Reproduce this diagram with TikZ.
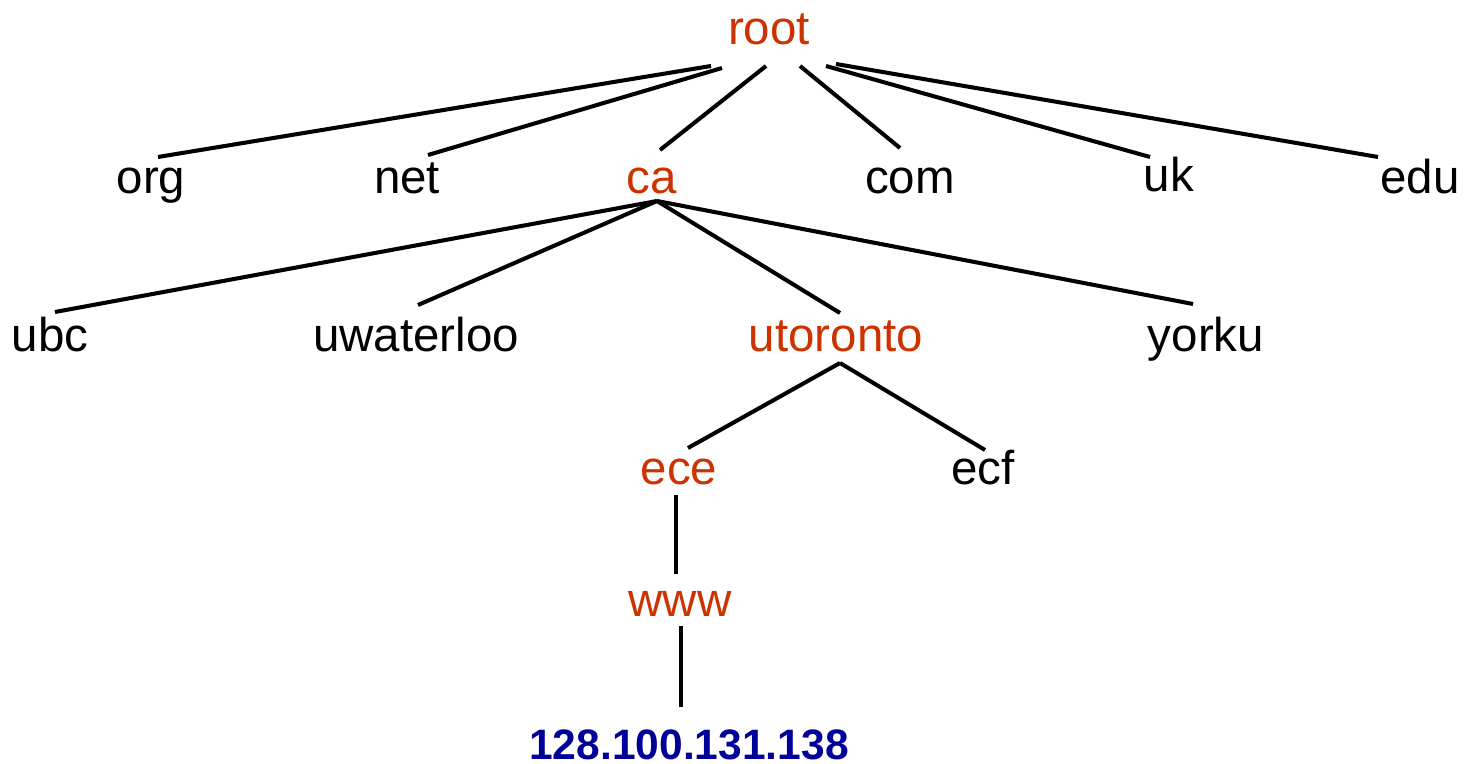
\documentclass[tikz,border=0pt]{standalone}
\usepackage{fontspec}
\setmainfont{Liberation Sans}
\definecolor{zone}{RGB}{204,51,0}
\definecolor{addr}{RGB}{0,0,153}
\begin{document}
\begin{tikzpicture}[x=0.01cm,y=-0.01cm,
  lbl/.style={anchor=base,inner sep=0pt,font=\fontsize{13.5}{16}\selectfont},
  hot/.style={lbl,text=zone},
  ip/.style={lbl,text=addr,text depth=0pt,font=\fontsize{12.1}{15}\selectfont\bfseries},
  link/.style={line width=1.15pt}]
\useasboundingbox (0,0) rectangle (1466,764);
% labels
\node[hot] (root) at (769,45) {root};
\node[lbl] (org) at (151,194) {org};
\node[lbl] (net) at (407,194) {net};
\node[hot] (ca) at (652,194) {ca};
\node[lbl] (com) at (910,194) {com};
\node[lbl] (uk) at (1169,192) {uk};
\node[lbl] (edu) at (1420,194) {edu};
\node[lbl] (ubc) at (50,352) {ubc};
\node[lbl] (uwaterloo) at (416,352) {uwaterloo};
\node[hot] (utoronto) at (836,352) {utoronto};
\node[lbl] (yorku) at (1206,352) {yorku};
\node[hot] (ece) at (679,485) {ece};
\node[lbl] (ecf) at (983,485) {ecf};
\node[hot] (www) at (680,617) {www};
\node[ip] (addr) at (689,759) {128.100.131.138};
% link end points
\coordinate (r1) at (711,66);  \coordinate (t1) at (158,157);
\coordinate (r2) at (722,68);  \coordinate (t2) at (428,155);
\coordinate (r3) at (766,66);  \coordinate (t3) at (660,150);
\coordinate (r4) at (800,66);  \coordinate (t4) at (900,148);
\coordinate (r5) at (826,66);  \coordinate (t5) at (1150,157);
\coordinate (r6) at (836,64);  \coordinate (t6) at (1378,157);
\coordinate (c0) at (657,201);
\coordinate (u1) at (55,312);
\coordinate (u2) at (418,305);
\coordinate (u3) at (840,313);
\coordinate (u4) at (1193,304);
\coordinate (o0) at (840,363);
\coordinate (e1) at (688,448);
\coordinate (e2) at (985,450);
\coordinate (w0) at (676,495);
\coordinate (w1) at (676,574);
\coordinate (a0) at (681,626);
\coordinate (a1) at (681,707);
% links
\draw[link] (r1) -- (t1);
\draw[link] (r2) -- (t2);
\draw[link] (r3) -- (t3);
\draw[link] (r4) -- (t4);
\draw[link] (r5) -- (t5);
\draw[link] (r6) -- (t6);
\draw[link] (c0) -- (u1);
\draw[link] (c0) -- (u2);
\draw[link] (c0) -- (u3);
\draw[link] (c0) -- (u4);
\draw[link] (o0) -- (e1);
\draw[link] (o0) -- (e2);
\draw[link] (w0) -- (w1);
\draw[link] (a0) -- (a1);
\end{tikzpicture}
\end{document}
